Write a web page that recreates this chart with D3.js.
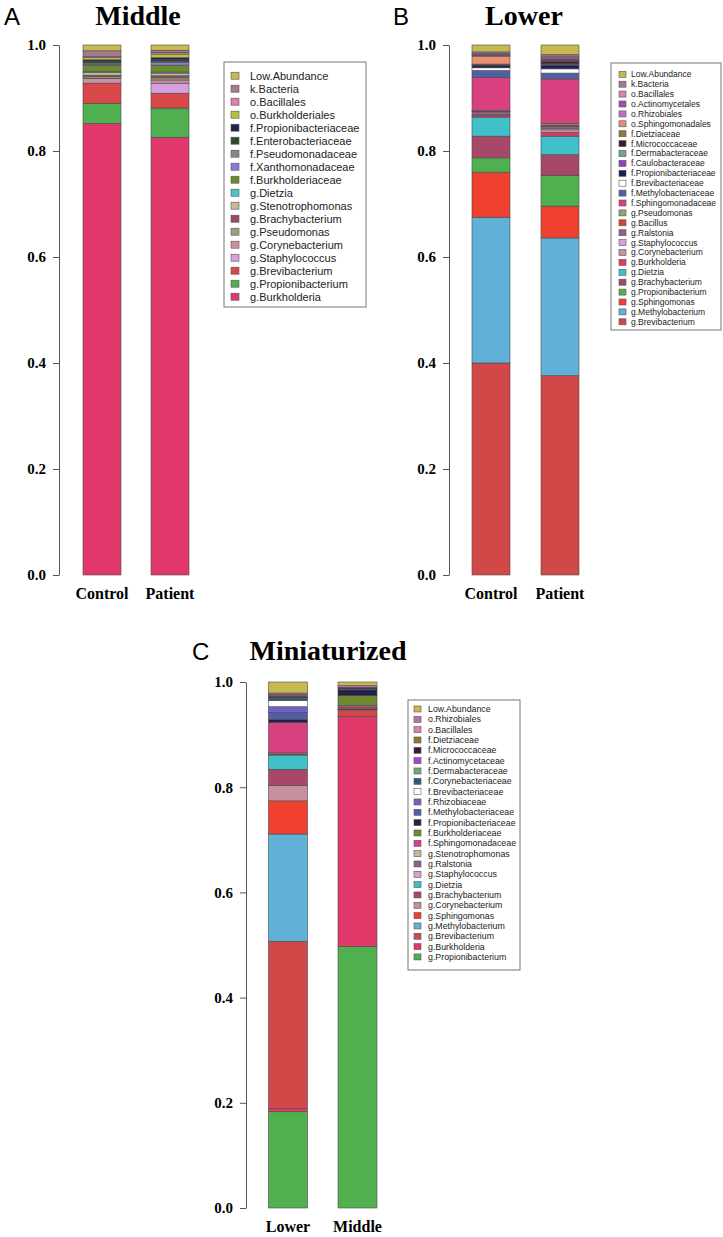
<!DOCTYPE html>
<html><head><meta charset="utf-8">
<script src="https://cdn.jsdelivr.net/npm/d3@7/dist/d3.min.js"></script>
<style>
html,body{margin:0;padding:0;background:#fff;}
svg{display:block;}
</style></head>
<body>
<svg id="chart" width="723" height="1237"></svg>
<script>
// ---------------- DATA ----------------
const yTicks = [0, 0.2, 0.4, 0.6, 0.8, 1.0];

// Panel A (Middle)
const catsA = ["Control", "Patient"];
const taxaA = ["Low.Abundance","k.Bacteria","o.Bacillales","o.Burkholderiales","f.Propionibacteriaceae","f.Enterobacteriaceae","f.Pseudomonadaceae","f.Xanthomonadaceae","f.Burkholderiaceae","g.Dietzia","g.Stenotrophomonas","g.Brachybacterium","g.Pseudomonas","g.Corynebacterium","g.Staphylococcus","g.Brevibacterium","g.Propionibacterium","g.Burkholderia"];
const colorsA = ["#c8b850","#a87890","#e080b0","#b8c040","#23234f","#2e4a30","#878a80","#8878d8","#6e8a2e","#48c4c8","#c8b898","#a04868","#9ca080","#c890a0","#d8a0e0","#d84848","#50b050","#e0386a"];
const controlA = [0.011,0.011,0.002,0.004,0.003,0.003,0.003,0.002,0.011,0.002,0.005,0.003,0.003,0.009,0.000,0.038,0.038,0.852];
const patientA = [0.010,0.004,0.003,0.007,0.004,0.003,0.002,0.005,0.013,0.002,0.005,0.004,0.004,0.006,0.019,0.028,0.055,0.826];

// Panel B (Lower)
const catsB = ["Control", "Patient"];
const taxaB = ["Low.Abundance","k.Bacteria","o.Bacillales","o.Actinomycetales","o.Rhizobiales","o.Sphingomonadales","f.Dietziaceae","f.Micrococcaceae","f.Dermabacteraceae","f.Caulobacteraceae","f.Propionibacteriaceae","f.Brevibacteriaceae","f.Methylobacteriaceae","f.Sphingomonadaceae","g.Pseudomonas","g.Bacillus","g.Ralstonia","g.Staphylococcus","g.Corynebacterium","g.Burkholderia","g.Dietzia","g.Brachybacterium","g.Propionibacterium","g.Sphingomonas","g.Methylobacterium","g.Brevibacterium"];
const colorsB = ["#c8b850","#a87890","#e080b0","#a050b0","#c070c0","#e89070","#907838","#401830","#70a880","#9040c0","#202050","#ffffff","#5060a8","#d84080","#98a070","#d84030","#906080","#d8a0e0","#c8909a","#e03868","#40c0c8","#a84868","#50b050","#f04030","#60b0d8","#d04848"];
const controlB = [0.013,0.003,0.002,0.002,0.001,0.015,0.001,0.002,0.000,0.000,0.004,0.005,0.013,0.063,0.001,0.001,0.006,0.000,0.001,0.003,0.036,0.041,0.027,0.085,0.275,0.400];
const patientB = [0.018,0.003,0.003,0.003,0.002,0.001,0.001,0.004,0.001,0.002,0.007,0.008,0.011,0.084,0.003,0.002,0.004,0.003,0.005,0.007,0.035,0.039,0.058,0.060,0.260,0.376];

// Panel C (Miniaturized)
const catsC = ["Lower", "Middle"];
const taxaC = ["Low.Abundance","o.Rhizobiales","o.Bacillales","f.Dietziaceae","f.Micrococcaceae","f.Actinomycetaceae","f.Dermabacteraceae","f.Corynebacteriaceae","f.Brevibacteriaceae","f.Rhizobiaceae","f.Methylobacteriaceae","f.Propionibacteriaceae","f.Burkholderiaceae","f.Sphingomonadaceae","g.Stenotrophomonas","g.Ralstonia","g.Staphylococcus","g.Dietzia","g.Brachybacterium","g.Corynebacterium","g.Sphingomonas","g.Methylobacterium","g.Brevibacterium","g.Burkholderia","g.Propionibacterium"];
const colorsC = ["#c8b850","#c070b0","#e080b0","#907838","#401830","#b040d0","#70a880","#305878","#ffffff","#7060c8","#5060a8","#202048","#708830","#d84080","#c8b898","#906080","#d8a0e0","#40c0c8","#a84868","#c8909a","#f04030","#60b0d8","#d04848","#e03868","#50b050"];
const lowerC = [0.021,0.003,0.002,0.001,0.002,0.001,0.001,0.004,0.012,0.011,0.013,0.006,0.000,0.058,0.002,0.001,0.002,0.026,0.031,0.029,0.063,0.204,0.318,0.006,0.183];
const middleC = [0.007,0.003,0.000,0.000,0.003,0.000,0.000,0.000,0.000,0.000,0.002,0.011,0.019,0.003,0.002,0.000,0.000,0.000,0.002,0.001,0.000,0.000,0.013,0.437,0.497];

// ---------------- DRAWING ----------------
const svg = d3.select("#chart");
const serif = "'Liberation Serif','Times New Roman',serif";
const sans = "'Liberation Sans',Arial,sans-serif";

function drawPanel(o) {
  const g = svg.append("g");
  const y = d3.scaleLinear().domain([0, 1]).range([o.y0, o.y1]);
  const x = d3.scalePoint().domain(o.cats).range([o.c0, o.c1]);
  const rows = o.cats.map((c, ci) => {
    const r = { cat: c };
    o.taxa.forEach((t, ti) => { r[t] = o.values[ci][ti]; });
    return r;
  });
  const keys = o.taxa.slice().reverse();
  const color = d3.scaleOrdinal().domain(o.taxa).range(o.colors);
  const series = d3.stack().keys(keys)(rows);
  g.selectAll("g.layer").data(series).join("g").attr("class", "layer")
    .attr("fill", d => color(d.key))
    .selectAll("rect").data(d => d.filter(p => p[1] - p[0] > 0)).join("rect")
    .attr("x", d => x(d.data.cat) - o.bw / 2)
    .attr("width", o.bw)
    .attr("y", d => y(d[1]))
    .attr("height", d => y(d[0]) - y(d[1]))
    .attr("stroke", "#4a4a4a").attr("stroke-width", 0.6);

  const ax = g.append("g").attr("transform", `translate(${o.ax},0)`)
    .call(d3.axisLeft(y).tickValues(yTicks).tickFormat(d3.format(".1f")).tickSize(6).tickSizeOuter(0).tickPadding(7));
  ax.select(".domain").attr("stroke", "#555");
  ax.selectAll(".tick line").attr("stroke", "#555");
  ax.selectAll("text").attr("font-family", serif).attr("font-weight", "bold").attr("font-size", 15).attr("fill", "#000");

  g.selectAll("text.cat").data(o.cats).join("text").attr("class", "cat")
    .attr("x", d => x(d)).attr("y", o.labY)
    .attr("text-anchor", "middle").attr("font-family", serif).attr("font-weight", "bold")
    .attr("font-size", 16).text(d => d);

  g.append("text").attr("x", o.tx).attr("y", o.ty).attr("text-anchor", "middle")
    .attr("font-family", serif).attr("font-weight", "bold").attr("font-size", 28).text(o.title);
  g.append("text").attr("x", o.lx).attr("y", o.ty).attr("font-family", sans)
    .attr("font-size", 24).text(o.letter);

  const L = o.leg;
  g.append("rect").attr("x", L.x).attr("y", L.y).attr("width", L.w).attr("height", L.h)
    .attr("fill", "#fff").attr("stroke", "#777").attr("stroke-width", 1);
  const li = g.selectAll("g.li").data(o.taxa).join("g").attr("class", "li")
    .attr("transform", (d, i) => `translate(${L.x},${L.first + i * L.step})`);
  li.append("rect").attr("x", L.sx).attr("y", -L.ss / 2).attr("width", L.ss + 1).attr("height", L.ss)
    .attr("fill", d => color(d)).attr("stroke", "#555").attr("stroke-width", 0.6);
  li.append("text").attr("x", L.tx).attr("y", 0).attr("dy", "0.35em")
    .attr("font-family", sans).attr("font-size", L.fs).attr("fill", "#222").text(d => d);
}

drawPanel({
  cats: catsA, taxa: taxaA, colors: colorsA, values: [controlA, patientA],
  y0: 575, y1: 45, c0: 102, c1: 170, bw: 38, ax: 59, labY: 599,
  title: "Middle", tx: 138, ty: 25, letter: "A", lx: 4,
  leg: { x: 224, y: 62, w: 142, h: 245, first: 75.7, step: 13.0, sx: 7, ss: 7, tx: 26, fs: 11 }
});
drawPanel({
  cats: catsB, taxa: taxaB, colors: colorsB, values: [controlB, patientB],
  y0: 575, y1: 45, c0: 491, c1: 560, bw: 38, ax: 449, labY: 599,
  title: "Lower", tx: 524, ty: 25, letter: "B", lx: 393,
  leg: { x: 611, y: 63, w: 110, h: 267, first: 74.3, step: 9.9, sx: 8, ss: 6, tx: 20, fs: 8.5 }
});
drawPanel({
  cats: catsC, taxa: taxaC, colors: colorsC, values: [lowerC, middleC],
  y0: 1208, y1: 682, c0: 288, c1: 357.5, bw: 39, ax: 246, labY: 1232,
  title: "Miniaturized", tx: 328, ty: 660, letter: "C", lx: 192,
  leg: { x: 408, y: 700, w: 112, h: 270, first: 709, step: 10.33, sx: 6, ss: 6, tx: 20, fs: 8.8 }
});
</script>
</body></html>
